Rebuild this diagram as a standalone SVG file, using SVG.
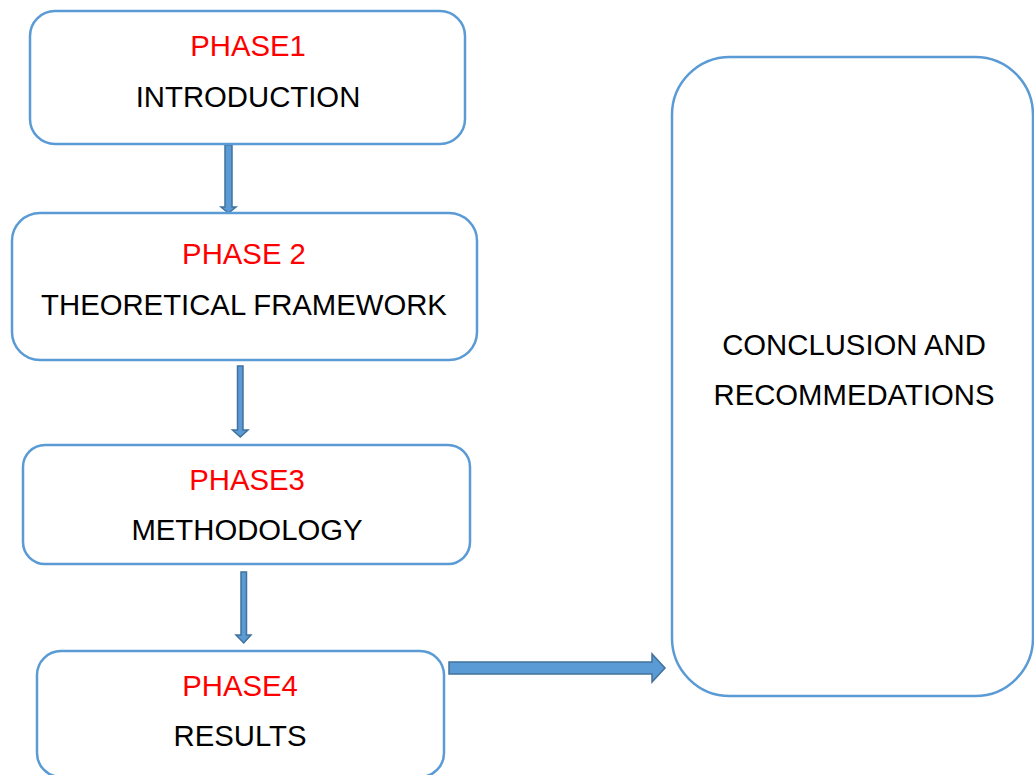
<svg xmlns="http://www.w3.org/2000/svg" width="1034" height="775" viewBox="0 0 1034 775">
<style>
.box{fill:#fff;stroke:#5B9BD5;stroke-width:2.5}
.t{font-family:"Liberation Sans",Arial,sans-serif;font-size:29.3px;text-anchor:middle;fill:#000}
.r{fill:#FF0000}
.arr{fill:#5B9BD5;stroke:#41719C;stroke-width:1.5;stroke-linejoin:miter}
</style>
<rect width="1034" height="775" fill="#fff"/>
<g id="connectors">
<polygon class="arr" points="225,145 232,145 232,207 236,207 228.5,213 221,207 225,207"/>
<polygon class="arr" points="237.5,366 243,366 243,430 248,430 240.3,437 232.5,430 237.5,430"/>
<polygon class="arr" points="241,572 246.5,572 246.5,635 251,635 243.7,643 236,635 241,635"/>
<polygon class="arr" points="449,662 652,662 652,654 665,668 652,682 652,674 449,674"/>
</g>
<g id="phase1">
<rect class="box" x="30" y="11" width="435" height="133" rx="25"/>
<text class="t r" x="248" y="56">PHASE1</text>
<text class="t" x="248" y="107">INTRODUCTION</text>
</g>
<g id="phase2">
<rect class="box" x="12" y="213" width="465" height="147" rx="28"/>
<text class="t r" x="244" y="264">PHASE 2</text>
<text class="t" x="244" y="315">THEORETICAL FRAMEWORK</text>
</g>
<g id="phase3">
<rect class="box" x="23" y="445" width="447" height="119" rx="22"/>
<text class="t r" x="247" y="490">PHASE3</text>
<text class="t" x="247" y="540">METHODOLOGY</text>
</g>
<g id="phase4">
<rect class="box" x="37" y="651" width="407" height="126" rx="24"/>
<text class="t r" x="240" y="696">PHASE4</text>
<text class="t" x="240" y="746">RESULTS</text>
</g>
<g id="conclusion">
<rect class="box" x="672" y="57" width="361" height="639" rx="58"/>
<text class="t" x="854" y="355">CONCLUSION AND</text>
<text class="t" x="854" y="405">RECOMMEDATIONS</text>
</g>
</svg>
